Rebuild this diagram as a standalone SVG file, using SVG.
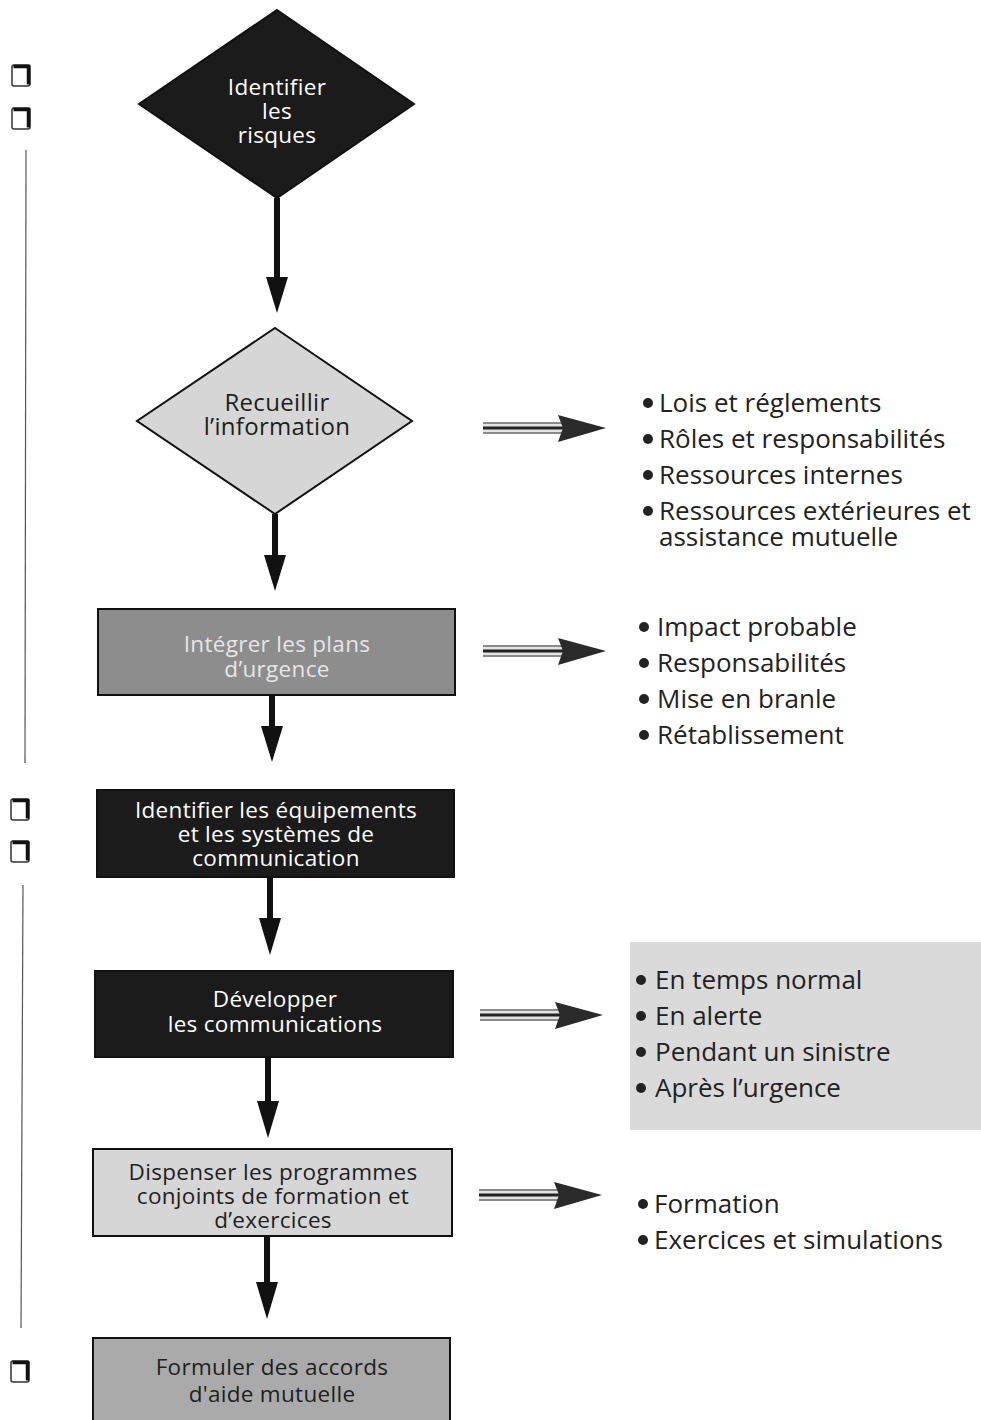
<svg xmlns="http://www.w3.org/2000/svg" width="981" height="1420" viewBox="0 0 981 1420">
<style>
.t{font-family:"Open Sans","Noto Sans","Liberation Sans",sans-serif;font-size:22.5px;text-anchor:middle;letter-spacing:0.3px}
.w{fill:#ffffff}
.lt{fill:#e6e6e6}
.dk{fill:#1e1e1e}
.li{font-family:"Open Sans","Noto Sans","Liberation Sans",sans-serif;font-size:26px;fill:#222}
.dark{fill:#1b1b1b;stroke:#111;stroke-width:2}
.mid{fill:#8d8d8d;stroke:#111;stroke-width:2}
.pale{fill:#d6d6d6;stroke:#111;stroke-width:2}
.gray{fill:#aaaaaa;stroke:#111;stroke-width:2}
.sh{fill:none;stroke:#111;stroke-width:6}
.hd{fill:#111}
.cb{fill:#fff;stroke:#333;stroke-width:1.5}
.cbs{fill:none;stroke:#111;stroke-width:3.5}
.rail{stroke:#555;stroke-width:1.2}
.bul{fill:#222}
</style>
<defs>
<g id="dblarrow">
<rect x="0" y="-6" width="80" height="12" fill="#e4e4e4"/>
<line x1="0" y1="-5" x2="80" y2="-5" stroke="#8a8a8a" stroke-width="2"/>
<line x1="0" y1="5" x2="80" y2="5" stroke="#8a8a8a" stroke-width="2"/>
<line x1="0" y1="0" x2="80" y2="0" stroke="#222" stroke-width="3"/>
<polygon points="75,-13 123,0 75,14 80,0" fill="#2a2a2a"/>
</g>
<g id="chk">
<rect class="cb" x="0" y="0" width="18" height="21" rx="2"/>
<polyline class="cbs" points="1.5,1.5 16.5,1.5 16.5,19.5"/>
</g>
</defs>

<g id="marks">
<use href="#chk" x="12" y="65"/>
<use href="#chk" x="12" y="108"/>
<line class="rail" x1="26" y1="150" x2="25" y2="763"/>
<use href="#chk" x="11" y="799"/>
<use href="#chk" x="11" y="841"/>
<line class="rail" x1="23" y1="885" x2="21" y2="1328"/>
<use href="#chk" x="11" y="1361"/>
</g>

<rect x="630" y="942" width="351" height="188" fill="#dadada"/>

<g id="connectors">
<line class="sh" x1="277" y1="198" x2="277" y2="282"/>
<polygon class="hd" points="266,277 288,277 277,313"/>
<line class="sh" x1="275" y1="514" x2="275" y2="560"/>
<polygon class="hd" points="264,555 286,555 275,591"/>
<line class="sh" x1="272" y1="695" x2="272" y2="731"/>
<polygon class="hd" points="261,726 283,726 272,762"/>
<line class="sh" x1="270" y1="877" x2="270" y2="923"/>
<polygon class="hd" points="259,918 281,918 270,955"/>
<line class="sh" x1="268" y1="1057" x2="268" y2="1106"/>
<polygon class="hd" points="257,1101 279,1101 268,1138"/>
<line class="sh" x1="267" y1="1236" x2="267" y2="1287"/>
<polygon class="hd" points="256,1282 278,1282 267,1319"/>
<use href="#dblarrow" x="483" y="428"/>
<use href="#dblarrow" x="483" y="651"/>
<use href="#dblarrow" x="480" y="1015"/>
<use href="#dblarrow" x="479" y="1195"/>
</g>

<g id="n1">
<polygon class="dark" points="277,10 414,104 277,198 139,104"/>
<text class="t w" x="277" y="95">Identifier</text>
<text class="t w" x="277" y="119">les</text>
<text class="t w" x="277" y="143">risques</text>
</g>

<g id="n2">
<polygon class="pale" points="275,328 412,421 275,514 137,421"/>
<text class="t dk" x="277" y="411" style="font-size:24px">Recueillir</text>
<text class="t dk" x="277" y="435" style="font-size:24px">l’information</text>
</g>

<g id="n3">
<rect class="mid" x="98" y="609" width="357" height="86"/>
<text class="t lt" x="277" y="652">Intégrer les plans</text>
<text class="t lt" x="277" y="677">d’urgence</text>
</g>

<g id="n4">
<rect class="dark" x="97" y="790" width="357" height="87"/>
<text class="t w" x="276" y="818">Identifier les équipements</text>
<text class="t w" x="276" y="842">et les systèmes de</text>
<text class="t w" x="276" y="866">communication</text>
</g>

<g id="n5">
<rect class="dark" x="95" y="971" width="358" height="86"/>
<text class="t w" x="275" y="1007">Développer</text>
<text class="t w" x="275" y="1032">les communications</text>
</g>

<g id="n6">
<rect class="pale" x="93" y="1149" width="359" height="87"/>
<text class="t dk" x="273" y="1180">Dispenser les programmes</text>
<text class="t dk" x="273" y="1204">conjoints de formation et</text>
<text class="t dk" x="273" y="1228">d’exercices</text>
</g>

<g id="n7">
<rect class="gray" x="93" y="1338" width="357" height="100"/>
<text class="t dk" x="272" y="1375">Formuler des accords</text>
<text class="t dk" x="272" y="1402">d'aide mutuelle</text>
</g>

<g id="list1">
<circle class="bul" cx="648" cy="403" r="5"/>
<text class="li" x="659" y="412">Lois et réglements</text>
<circle class="bul" cx="648" cy="439" r="5"/>
<text class="li" x="659" y="448">Rôles et responsabilités</text>
<circle class="bul" cx="648" cy="475" r="5"/>
<text class="li" x="659" y="484">Ressources internes</text>
<circle class="bul" cx="648" cy="511" r="5"/>
<text class="li" x="659" y="520">Ressources extérieures et</text>
<text class="li" x="659" y="546">assistance mutuelle</text>
</g>

<g id="list2">
<circle class="bul" cx="644" cy="627" r="5"/>
<text class="li" x="657" y="636">Impact probable</text>
<circle class="bul" cx="644" cy="663" r="5"/>
<text class="li" x="657" y="672">Responsabilités</text>
<circle class="bul" cx="644" cy="699" r="5"/>
<text class="li" x="657" y="708">Mise en branle</text>
<circle class="bul" cx="644" cy="735" r="5"/>
<text class="li" x="657" y="744">Rétablissement</text>
</g>

<g id="list3">
<circle class="bul" cx="641" cy="980" r="5"/>
<text class="li" x="655" y="989">En temps normal</text>
<circle class="bul" cx="641" cy="1016" r="5"/>
<text class="li" x="655" y="1025">En alerte</text>
<circle class="bul" cx="641" cy="1052" r="5"/>
<text class="li" x="655" y="1061">Pendant un sinistre</text>
<circle class="bul" cx="641" cy="1088" r="5"/>
<text class="li" x="655" y="1097">Après l’urgence</text>
</g>

<g id="list4">
<circle class="bul" cx="643" cy="1204" r="5"/>
<text class="li" x="654" y="1213">Formation</text>
<circle class="bul" cx="643" cy="1240" r="5"/>
<text class="li" x="654" y="1249">Exercices et simulations</text>
</g>
</svg>
